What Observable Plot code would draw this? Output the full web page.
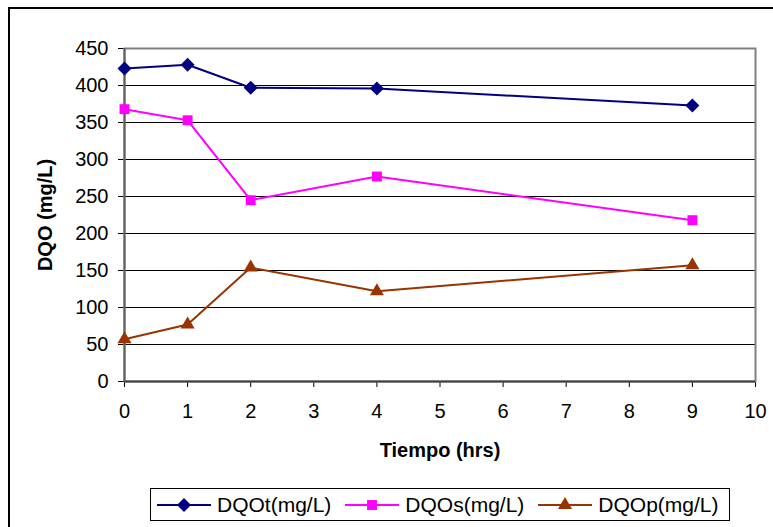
<!DOCTYPE html>
<html>
<head>
<meta charset="utf-8">
<script src="https://cdn.jsdelivr.net/npm/d3@7"></script>
<script src="https://cdn.jsdelivr.net/npm/@observablehq/plot@0.6"></script>
<style>
  html, body { margin: 0; padding: 0; background: #fff; }
  body { width: 773px; height: 527px; overflow: hidden; position: relative;
         font-family: "Liberation Sans", Arial, sans-serif; }
  #outer { position: absolute; left: 8px; top: 7px; width: 800px; height: 560px;
           border: 2px solid #000; box-sizing: border-box; }
  #chart { position: absolute; left: 0; top: 0; }
  #chart [aria-label="x-axis label"], #chart [aria-label="y-axis label"] { font-weight: bold; }
  #legend { position: absolute; left: 150px; top: 488px; height: 33px; width: 580px;
            border: 1px solid #000; box-sizing: border-box; background: #fff;
            display: flex; align-items: center; padding-left: 6px; font-size: 21px; color: #000; }
  .item { display: flex; align-items: center; margin-right: 14px; }
  .item svg { margin-right: 6px; }
</style>
</head>
<body>
<div id="outer"></div>
<div id="chart"></div>
<div id="legend"></div>
<script>
// Sampling times (hours) and COD readings for each fraction
const tiempo = [0, 1, 2, 4, 9];
const dqoT = [423, 428, 397, 396, 373];
const dqoS = [368, 353, 245, 277, 218];
const dqoP = [57, 77, 154, 122, 157];

const seriesNames = ["DQOt(mg/L)", "DQOs(mg/L)", "DQOp(mg/L)"];
const seriesValues = [dqoT, dqoS, dqoP];
const seriesColors = ["#000080", "#FF00FF", "#993300"];
const seriesSymbols = ["diamond2", "square", "triangle"];
const seriesRadius = [6.3, 5.6, 5.2];

const xTicks = [0, 1, 2, 3, 4, 5, 6, 7, 8, 9, 10];
const yTicks = [0, 50, 100, 150, 200, 250, 300, 350, 400, 450];

// Long-format table: one row per reading
const rows = seriesNames.flatMap((name, i) =>
  tiempo.map((t, j) => ({ serie: name, tiempo: t, dqo: seriesValues[i][j] }))
);

const marks = [
  // horizontal grid (inner lines)
  Plot.ruleY(yTicks.slice(1, -1), { stroke: "#000", strokeWidth: 1 }),
  // plot-area border
  Plot.frame({ stroke: "#808080", strokeWidth: 2 }),
  Plot.ruleY([0], { stroke: "#404040", strokeWidth: 2 }),
  Plot.ruleX([0], { stroke: "#606060", strokeWidth: 2 })
];

seriesNames.forEach((name, i) => {
  const data = rows.filter(d => d.serie === name);
  marks.push(Plot.line(data, { x: "tiempo", y: "dqo", stroke: seriesColors[i], strokeWidth: 2 }));
  marks.push(Plot.dot(data, {
    x: "tiempo", y: "dqo", symbol: () => seriesSymbols[i], r: seriesRadius[i],
    fill: seriesColors[i], stroke: "none"
  }));
});

const chart = Plot.plot({
  width: 773,
  height: 470,
  marginLeft: 124,
  marginRight: 18,
  marginTop: 48,
  marginBottom: 89,
  style: { fontFamily: "'Liberation Sans', Arial, sans-serif", fontSize: "20px", color: "#000", background: "transparent" },
  x: {
    domain: [0, 10], ticks: xTicks, tickSize: 6, tickPadding: 16,
    label: "Tiempo (hrs)", labelAnchor: "center", labelOffset: 75, labelArrow: "none"
  },
  y: {
    domain: [0, 450], ticks: yTicks, tickSize: 6, tickPadding: 10,
    label: "DQO (mg/L)", labelAnchor: "center", labelOffset: 87, labelArrow: "none"
  },
  symbol: { type: "identity" },
  marks
});

// Axis titles carry no direction arrows
chart.querySelectorAll('[aria-label="x-axis label"] text, [aria-label="y-axis label"] text').forEach(t => {
  t.textContent = t.textContent.replace(/\s*[→←↑↓]\s*/g, "").trim();
});
document.getElementById("chart").appendChild(chart);

// Legend: line + marker swatch followed by the series name
const legend = document.getElementById("legend");
seriesNames.forEach((name, i) => {
  const item = document.createElement("div");
  item.className = "item";
  const sw = d3.create("svg").attr("width", 54).attr("height", 20);
  sw.append("line").attr("x1", 0).attr("x2", 54).attr("y1", 10).attr("y2", 10)
    .attr("stroke", seriesColors[i]).attr("stroke-width", 2);
  const sym = { diamond2: d3.symbolDiamond2, square: d3.symbolSquare, triangle: d3.symbolTriangle }[seriesSymbols[i]];
  sw.append("path").attr("transform", "translate(27,10)")
    .attr("d", d3.symbol(sym, Math.PI * seriesRadius[i] ** 2)())
    .attr("fill", seriesColors[i]);
  item.appendChild(sw.node());
  const label = document.createElement("span");
  label.textContent = name;
  item.appendChild(label);
  legend.appendChild(item);
});
</script>
</body>
</html>
